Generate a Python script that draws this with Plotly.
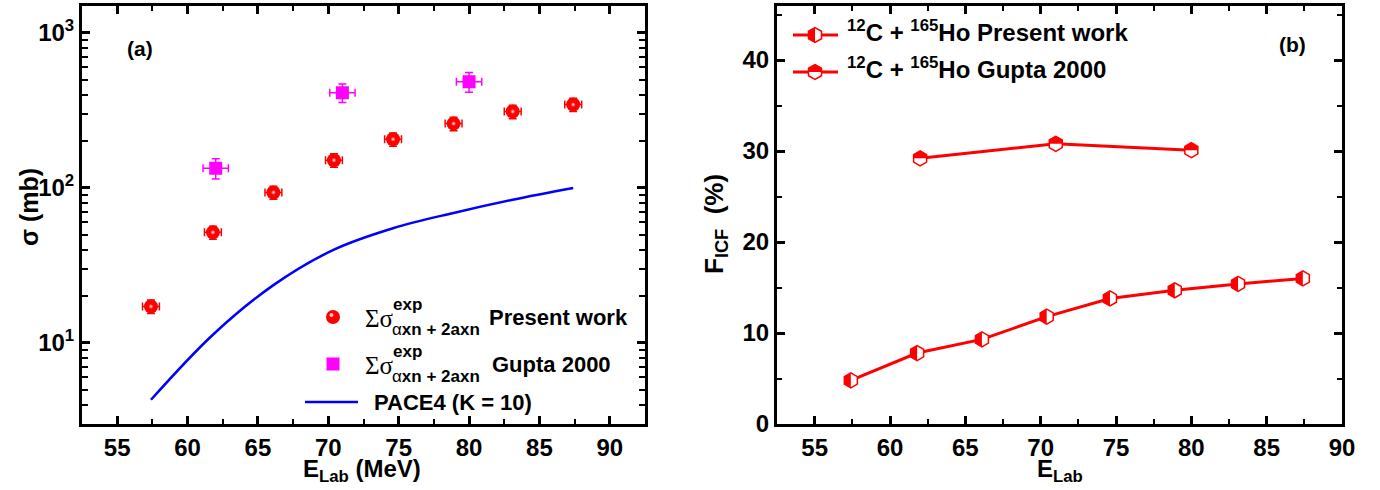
import plotly.graph_objects as go

W, H = 1380, 490

# ---------------- data: panel (a) ----------------
e_present = [57.4, 61.8, 66.1, 70.4, 74.6, 78.9, 83.1, 87.4]
e_present_err = [0.6, 0.6, 0.6, 0.6, 0.6, 0.6, 0.6, 0.6]
sig_present = [17.2, 51.7, 93.5, 151, 206, 260, 311, 345]
sig_present_err = [1.7, 5, 9, 15, 20, 26, 31, 34]

e_gupta = [62.0, 71.0, 80.0]
e_gupta_err = [0.9, 0.9, 0.9]
sig_gupta = [134, 412, 485]
sig_gupta_err = [20, 56, 70]

e_pace = [57.4, 61.8, 66.1, 70.4, 74.6, 78.9, 83.1, 87.4]
sig_pace = [4.3, 11.3, 23.6, 40.0, 55.0, 69.0, 84.0, 100.0]

# ---------------- data: panel (b) ----------------
ficf_present = [4.8, 7.8, 9.3, 11.8, 13.8, 14.7, 15.4, 16.0]
ficf_gupta = [29.2, 30.8, 30.1]

x_ticks = [55, 60, 65, 70, 75, 80, 85, 90]
ya_ticks = [10, 100, 1000]
ya_ticktext = ["10<sup>1</sup>", "10<sup>2</sup>", "10<sup>3</sup>"]
yb_ticks = [0, 10, 20, 30, 40]

RED = "#ff0000"
MAG = "#ff00ff"
BLUE = "#0000ff"
FONT = "Liberation Sans"


def px(x):
    return x / W


def py(y):
    return 1 - y / H


fig = go.Figure()

# panel (a)
fig.add_trace(go.Scatter(
    x=e_pace, y=sig_pace, mode="lines", line=dict(color=BLUE, width=2.5, shape="spline"),
    xaxis="x", yaxis="y", showlegend=False))
fig.add_trace(go.Scatter(
    x=e_present, y=sig_present, mode="markers",
    marker=dict(symbol="circle", size=14, color=RED),
    error_x=dict(type="data", array=e_present_err, color=RED, thickness=1.5, width=4),
    error_y=dict(type="data", array=sig_present_err, color=RED, thickness=1.5, width=4),
    xaxis="x", yaxis="y", showlegend=False))
fig.add_trace(go.Scatter(
    x=e_present, y=sig_present, mode="markers",
    marker=dict(symbol="circle", size=5, color=RED,
                gradient=dict(type="radial", color="rgba(255,235,235,1)")),
    xaxis="x", yaxis="y", showlegend=False, hoverinfo="skip"))
fig.add_trace(go.Scatter(
    x=e_gupta, y=sig_gupta, mode="markers",
    marker=dict(symbol="square", size=13, color=MAG),
    error_x=dict(type="data", array=e_gupta_err, color=MAG, thickness=1.5, width=4),
    error_y=dict(type="data", array=sig_gupta_err, color=MAG, thickness=1.5, width=4),
    xaxis="x", yaxis="y", showlegend=False))

# panel (b)
HEX = dict(symbol="hexagon", size=15, color="white", line=dict(color=RED, width=1.5))
fig.add_trace(go.Scatter(
    x=e_present, y=ficf_present, mode="lines+markers",
    line=dict(color=RED, width=3), marker=HEX,
    xaxis="x2", yaxis="y2", showlegend=False))
fig.add_trace(go.Scatter(
    x=e_gupta, y=ficf_gupta, mode="lines+markers",
    line=dict(color=RED, width=3), marker=HEX,
    xaxis="x2", yaxis="y2", showlegend=False))

r = 7.5
rns = round(r * 3 ** 0.5 / 2, 2)
rew = r / 2
LEFT_HALF = f"M 0,{r} L -{rns},{rew} L -{rns},-{rew} L 0,-{r} Z"
TOP_HALF = f"M -{rns},0 L -{rns},{rew} L 0,{r} L {rns},{rew} L {rns},0 Z"
FULL_HEX = f"M {rns},-{rew} L {rns},{rew} L 0,{r} L -{rns},{rew} L -{rns},-{rew} L 0,-{r} Z"

shapes = []
for xv, yv in zip(e_present, ficf_present):
    shapes.append(dict(type="path", xref="x2", yref="y2", xsizemode="pixel", ysizemode="pixel",
                       xanchor=xv, yanchor=yv, path=LEFT_HALF, fillcolor=RED, line=dict(width=0)))
for xv, yv in zip(e_gupta, ficf_gupta):
    shapes.append(dict(type="path", xref="x2", yref="y2", xsizemode="pixel", ysizemode="pixel",
                       xanchor=xv, yanchor=yv, path=TOP_HALF, fillcolor=RED, line=dict(width=0)))

# legend keys panel (b)
for yk, half in [(35, LEFT_HALF), (72, TOP_HALF)]:
    shapes.append(dict(type="line", xref="paper", yref="paper", x0=px(793), x1=px(838),
                       y0=py(yk), y1=py(yk), line=dict(color=RED, width=3)))
    shapes.append(dict(type="path", xref="paper", yref="paper", xsizemode="pixel", ysizemode="pixel",
                       xanchor=px(815), yanchor=py(yk), path=FULL_HEX, fillcolor="white",
                       line=dict(color=RED, width=1.5)))
    shapes.append(dict(type="path", xref="paper", yref="paper", xsizemode="pixel", ysizemode="pixel",
                       xanchor=px(815), yanchor=py(yk), path=half, fillcolor=RED, line=dict(width=0)))

# legend keys panel (a)
shapes.append(dict(type="circle", xref="paper", yref="paper", xsizemode="pixel", ysizemode="pixel",
                   xanchor=px(333), yanchor=py(317), x0=-7, x1=7, y0=-7, y1=7,
                   fillcolor=RED, line=dict(width=0)))
shapes.append(dict(type="circle", xref="paper", yref="paper", xsizemode="pixel", ysizemode="pixel",
                   xanchor=px(333), yanchor=py(317), x0=-3.5, x1=0.5, y0=0, y1=4,
                   fillcolor="rgba(255,220,220,0.9)", line=dict(width=0)))
shapes.append(dict(type="rect", xref="paper", yref="paper", xsizemode="pixel", ysizemode="pixel",
                   xanchor=px(333), yanchor=py(364), x0=-6.5, x1=6.5, y0=-6.5, y1=6.5,
                   fillcolor=MAG, line=dict(width=0)))
shapes.append(dict(type="line", xref="paper", yref="paper", x0=px(305), x1=px(358),
                   y0=py(402), y1=py(402), line=dict(color=BLUE, width=2.5)))

annotations = []


def ann(text, x, y, size, bold=True, family=FONT, xanchor="left", angle=0, yanchor="middle"):
    annotations.append(dict(text=text, x=px(x), y=py(y), xref="paper", yref="paper",
                            xanchor=xanchor, yanchor=yanchor, showarrow=False, textangle=angle,
                            font=dict(family=family, size=size, color="black",
                                      weight="bold" if bold else "normal")))


# panel (a) legend text
for yc, label, lx in [(317, "Present work", 487), (364, "Gupta 2000", 490)]:
    ann("Σσ", 363, yc + 1, 25, bold=False, family="Liberation Serif")
    ann("exp", 391, yc - 13, 17)
    ann("<span style='font-weight:normal'>α</span>xn + 2axn", 390, yc + 12, 17)
    ann(label, lx, yc, 22)
ann("PACE4 (K = 10)", 372, 402, 22)

# panel (b) legend text
ann("<sup>12</sup>C + <sup>165</sup>Ho Present work", 845, 31, 24)
ann("<sup>12</sup>C + <sup>165</sup>Ho Gupta 2000", 845, 68, 24)

# panel labels
ann("(a)", 140, 49, 21, xanchor="center")
ann("(b)", 1292, 45, 21, xanchor="center")

# axis titles
ann("E<sub>Lab</sub> (MeV)", 362, 470, 24, xanchor="center")
ann("E<sub>Lab</sub>", 1060, 470, 24, xanchor="center")
ann("σ (mb)", 29, 207, 25, xanchor="center", angle=-90)
ann("F<sub>ICF</sub>  (%)", 716, 224, 26, xanchor="center", angle=-90)

axis_common = dict(showline=True, linewidth=3, linecolor="black", mirror="ticks",
                   ticks="inside", ticklen=8, tickwidth=2.5, tickcolor="black",
                   showgrid=False, zeroline=False, automargin=False,
                   tickfont=dict(family=FONT, size=24, color="black", weight="bold"))

ydom = [py(424), py(5.5)]
minor_log = [m * 10 ** k for k in range(0, 4) for m in range(2, 10)]

fig.update_layout(
    width=W, height=H, margin=dict(l=0, r=0, t=0, b=0, pad=0, autoexpand=False),
    paper_bgcolor="white", plot_bgcolor="white", showlegend=False,
    xaxis=dict(domain=[px(82), px(645)], range=[52.5, 92.5], tickvals=x_ticks,
               minor=dict(dtick=2.5, tick0=0, ticks="inside", ticklen=5, tickwidth=2, tickcolor="black"),
               anchor="y", **axis_common),
    yaxis=dict(domain=ydom, type="log", range=[0.477, 3.177], tickvals=ya_ticks, ticktext=ya_ticktext,
               minor=dict(tickvals=minor_log, ticks="inside", ticklen=6, tickwidth=2, tickcolor="black"),
               anchor="x", **axis_common),
    xaxis2=dict(domain=[px(777), px(1342)], range=[52.5, 90], tickvals=x_ticks,
                minor=dict(dtick=2.5, tick0=0, ticks="inside", ticklen=5, tickwidth=2, tickcolor="black"),
                anchor="y2", **axis_common),
    yaxis2=dict(domain=ydom, range=[0, 46], tickvals=yb_ticks,
                minor=dict(dtick=5, tick0=0, ticks="inside", ticklen=5, tickwidth=2, tickcolor="black"),
                anchor="x2", **axis_common),
    shapes=shapes, annotations=annotations,
)

fig.write_html("out.html")
